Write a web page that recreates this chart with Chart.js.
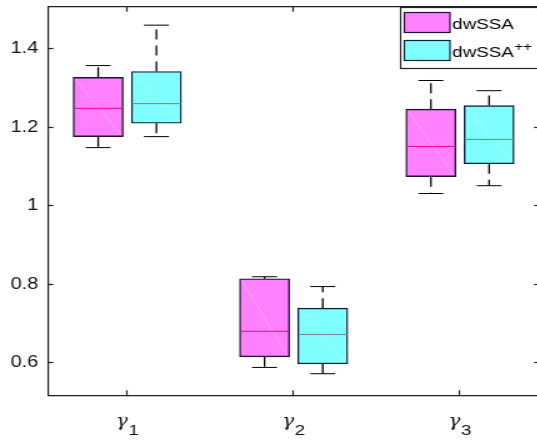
<!DOCTYPE html>
<html><head><meta charset="utf-8">
<script src="https://cdn.jsdelivr.net/npm/chart.js@4"></script>
<style>
html,body{margin:0;padding:0;background:#fff;overflow:hidden}
#wrap{width:537px;height:440px;overflow:hidden;position:relative;background:#fff}
#c{position:absolute;left:0;top:0;transform:scaleX(1.25);transform-origin:0 0}
</style></head><body>
<div id="wrap"><canvas id="c" width="434" height="440"></canvas></div>
<script>
// ---- data ----
const categories = ['γ_1', 'γ_2', 'γ_3'];
const seriesNames = ['dwSSA', 'dwSSA^{++}'];
const yTicks = [0.6, 0.8, 1, 1.2, 1.4];
const yTickLabels = ['0.6', '0.8', '1', '1.2', '1.4'];

const dwSSA_min = [1.148, 0.588, 1.031];
const dwSSA_q1  = [1.176, 0.615, 1.074];
const dwSSA_med = [1.248, 0.680, 1.151];
const dwSSA_q3  = [1.327, 0.814, 1.246];
const dwSSA_max = [1.357, 0.819, 1.319];

const dwSSApp_min = [1.176, 0.572, 1.051];
const dwSSApp_q1  = [1.210, 0.597, 1.107];
const dwSSApp_med = [1.260, 0.672, 1.169];
const dwSSApp_q3  = [1.342, 0.739, 1.255];
const dwSSApp_max = [1.460, 0.794, 1.293];

// ---- style / layout ----
const X_MIN = 0.525, X_MAX = 3.475, Y_MIN = 0.517, Y_MAX = 1.507;
const OFFSET = 0.175;
const AXIS = '#222222';
const TEXT = '#111111';
const fills = ['#ff80ff', '#80ffff'];
const edges = ['#1c1236', '#10203a'];
const medColors = ['#ff0080', '#808080'];
const SANS = '"Liberation Sans", Arial, sans-serif';
const SERIF = '"DejaVu Serif", "Liberation Serif", serif';

const series = [
  {min: dwSSA_min, q1: dwSSA_q1, med: dwSSA_med, q3: dwSSA_q3, max: dwSSA_max},
  {min: dwSSApp_min, q1: dwSSApp_q1, med: dwSSApp_med, q3: dwSSApp_q3, max: dwSSApp_max}
];

const datasets = [];
series.forEach((s, si) => {
  const xs = categories.map((_, i) => i + 1 + (si === 0 ? -OFFSET : OFFSET));
  const whisk = [];
  xs.forEach((x, i) => {
    whisk.push({x, y: s.q3[i]}, {x, y: s.max[i]}, {x, y: null},
               {x, y: s.q1[i]}, {x, y: s.min[i]}, {x, y: null});
  });
  datasets.push({type: 'line', data: whisk, borderColor: '#000', borderWidth: 1.3,
    borderDash: [10, 6], pointRadius: 0, spanGaps: false, fill: false, order: 4});
  datasets.push({type: 'bar', data: xs.map((x, i) => ({x, y: [s.q1[i], s.q3[i]]})),
    backgroundColor: fills[si], borderColor: edges[si], borderWidth: 1.4, borderSkipped: false,
    grouped: false, maxBarThickness: 40, barPercentage: 1, categoryPercentage: 1, order: 3});
  datasets.push({type: 'line', data: xs.map((x, i) => ({x, y: s.med[i]})), showLine: false,
    pointStyle: 'line', pointRadius: 19.5, pointBorderColor: medColors[si], pointBorderWidth: 1, order: 2});
  datasets.push({type: 'line', data: xs.flatMap((x, i) => [{x, y: s.max[i]}, {x, y: s.min[i]}]),
    showLine: false, pointStyle: 'line', pointRadius: 10, pointBorderColor: '#000', pointBorderWidth: 1, order: 1});
});

const CANVAS_W = 434;
const AREA = {left: 38.64, right: 431.2, top: 6.7, bottom: 395.3};

function axisCommon(tl) {
  return {
    offset: false,
    bounds: 'data',
    grid: {display: true, drawOnChartArea: false, drawTicks: true, tickLength: tl,
           tickColor: AXIS, tickWidth: 1.2, offset: false},
    border: {display: true, color: AXIS, width: 1.2}
  };
}

const decor = {
  id: 'decor',
  afterDatasetDraw(chart, args) {
    if (args.meta.type !== 'bar') return;
    const ctx = chart.ctx;
    ctx.save();
    ctx.strokeStyle = 'rgba(255,255,255,0.3)';
    ctx.lineWidth = 0.8;
    args.meta.data.forEach(el => {
      const top = Math.min(el.y, el.base), bot = Math.max(el.y, el.base);
      ctx.beginPath();
      ctx.moveTo(el.x - el.width / 2 + 1.5, top + 1.5);
      ctx.lineTo(el.x + el.width / 2 - 1.5, bot - 1.5);
      ctx.stroke();
    });
    ctx.restore();
  },
  afterDraw(chart) {
    const ctx = chart.ctx;
    const xs = chart.scales.x;
    const ca = chart.chartArea;
    ctx.save();
    ctx.textBaseline = 'alphabetic';
    ctx.textAlign = 'left';
    ctx.fillStyle = TEXT;
    // x tick labels (TeX-like gamma with subscript)
    categories.forEach((lab, i) => {
      const [base, sub] = lab.split('_');
      const px = xs.getPixelForValue(i + 1);
      ctx.font = 'italic 16px ' + SERIF;
      const wb = ctx.measureText(base).width;
      ctx.font = '15px ' + SANS;
      const ws = ctx.measureText(sub).width;
      const start = px - (wb + ws + 0.5) / 2;
      ctx.font = 'italic 16px ' + SERIF;
      ctx.fillText(base, start, ca.bottom + 31);
      ctx.font = '15px ' + SANS;
      ctx.fillText(sub, start + wb + 0.5, ca.bottom + 40);
    });
    // legend
    const lx = 320.5, ly = Math.round(ca.top) + 0.5, lh = 61;
    ctx.fillStyle = '#fff';
    ctx.fillRect(lx, ly, CANVAS_W - lx + 5, lh);
    ctx.strokeStyle = AXIS;
    ctx.lineWidth = 1.2;
    ctx.strokeRect(lx, ly, CANVAS_W - lx + 5, lh);
    seriesNames.forEach((name, si) => {
      const rowTop = 12.5 + si * 28;
      ctx.fillStyle = fills[si];
      ctx.fillRect(323.5, rowTop, 36.5, 20);
      ctx.strokeStyle = edges[si];
      ctx.lineWidth = 1.2;
      ctx.strokeRect(323.5, rowTop, 36.5, 20);
      const m = name.match(/^(.*?)(?:\^\{(.*)\})?$/);
      ctx.fillStyle = '#000';
      ctx.font = '15px ' + SANS;
      const bl = rowTop + 16.5;
      ctx.fillText(m[1], 361.8, bl);
      if (m[2]) {
        const w = ctx.measureText(m[1]).width;
        ctx.font = '12px ' + SANS;
        ctx.fillText(m[2], 361.8 + w + 0.5, bl - 6);
      }
    });
    ctx.restore();
  }
};

new Chart(document.getElementById('c'), {
  type: 'bar',
  data: {datasets},
  options: {
    responsive: false,
    devicePixelRatio: 1,
    animation: false,
    events: [],
    layout: {padding: 0, autoPadding: false},
    plugins: {legend: {display: false}, tooltip: {enabled: false}},
    scales: {
      x: Object.assign(axisCommon(-5), {
        type: 'linear', position: 'bottom', min: X_MIN, max: X_MAX,
        ticks: {display: false},
        afterBuildTicks: s => { s.ticks = categories.map((_, i) => ({value: i + 1})); },
        afterFit: s => { s.height = 440 - AREA.bottom; s.paddingLeft = 0; s.paddingRight = 0; }
      }),
      xTop: Object.assign(axisCommon(-5), {
        type: 'linear', position: 'top', min: X_MIN, max: X_MAX,
        ticks: {display: false},
        afterBuildTicks: s => { s.ticks = categories.map((_, i) => ({value: i + 1})); },
        afterFit: s => { s.height = AREA.top; s.paddingLeft = 0; s.paddingRight = 0; }
      }),
      y: Object.assign(axisCommon(-4), {
        type: 'linear', position: 'left', min: Y_MIN, max: Y_MAX,
        ticks: {display: true, padding: 12, color: TEXT, font: {family: SANS, size: 16},
                callback: (v, i) => yTickLabels[i]},
        afterBuildTicks: s => { s.ticks = yTicks.map(v => ({value: v})); },
        afterFit: s => { s.width = AREA.left; s.paddingTop = 0; s.paddingBottom = 0; }
      }),
      yRight: Object.assign(axisCommon(-4), {
        type: 'linear', position: 'right', min: Y_MIN, max: Y_MAX,
        ticks: {display: false},
        afterBuildTicks: s => { s.ticks = yTicks.map(v => ({value: v})); },
        afterFit: s => { s.width = CANVAS_W - AREA.right; s.paddingTop = 0; s.paddingBottom = 0; }
      })
    }
  },
  plugins: [decor]
});
</script>
</body></html>
